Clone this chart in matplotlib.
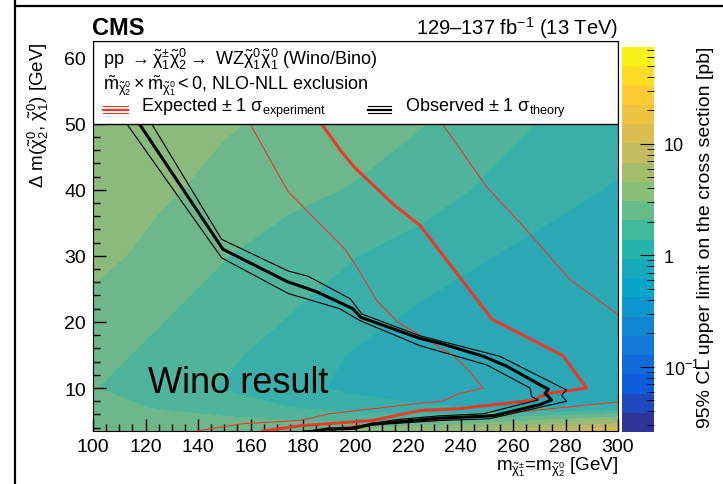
import numpy as np
import matplotlib
matplotlib.use('agg')
import matplotlib.pyplot as plt
from matplotlib.colors import LinearSegmentedColormap, Normalize
from matplotlib.lines import Line2D
from matplotlib.patches import Rectangle
from matplotlib import ticker

plt.rcParams['font.family'] = ['Liberation Sans', 'DejaVu Sans']
plt.rcParams['mathtext.fontset'] = 'custom'
plt.rcParams['mathtext.rm'] = 'Liberation Sans'
plt.rcParams['mathtext.it'] = 'Liberation Sans'
plt.rcParams['mathtext.bf'] = 'Liberation Sans:bold'

# ROOT kBird palette
stops = [0.0, 0.125, 0.25, 0.375, 0.5, 0.625, 0.75, 0.875, 1.0]
red = [0.2082, 0.0592, 0.0780, 0.0232, 0.1802, 0.5301, 0.8186, 0.9956, 0.9764]
green = [0.1664, 0.3599, 0.5041, 0.6419, 0.7178, 0.7492, 0.7328, 0.7862, 0.9832]
blue = [0.5293, 0.8684, 0.8385, 0.7914, 0.6425, 0.4662, 0.3499, 0.1968, 0.0539]
bird = LinearSegmentedColormap.from_list('bird', list(zip(stops, zip(red, green, blue))))

# 95% CL upper limit on cross section [pb]
m_grid = [100, 125, 150, 175, 200, 225, 250, 275, 300]
dm_grid = [3.5, 5, 7, 10, 15, 20, 30, 40, 50]
xs_limit = [
    [3.1, 3.0, 3.0, 3.0, 3.4, 4.5, 6.5, 10.0, 16.0],
    [2.8, 2.6, 2.3, 2.1, 2.0, 2.1, 2.5, 3.5, 5.0],
    [2.4, 2.0, 1.7, 1.4, 1.15, 1.0, 0.95, 0.95, 1.05],
    [2.1, 1.7, 1.35, 1.05, 0.85, 0.72, 0.68, 0.66, 0.66],
    [2.3, 1.9, 1.5, 1.15, 0.9, 0.75, 0.68, 0.65, 0.63],
    [2.6, 2.1, 1.7, 1.35, 1.05, 0.85, 0.75, 0.7, 0.68],
    [3.5, 2.7, 2.1, 1.7, 1.4, 1.15, 0.95, 0.82, 0.75],
    [4.0, 3.3, 2.7, 2.3, 2.0, 1.7, 1.3, 1.05, 0.9],
    [4.5, 3.8, 3.2, 2.8, 2.5, 2.1, 1.7, 1.3, 1.1],
]
zmin, zmax = 0.026, 74.0

# exclusion contours (m, dm)
exp_m = [187, 194, 199.8, 215, 224.6, 252, 279, 288, 274, 270, 269, 240, 224.6, 206.7, 178.9, 164.8]
exp_dm = [50, 46.1, 43.3, 37.6, 34.6, 20.4, 14.9, 10.0, 9.2, 8.7, 8.2, 6.9, 6.6, 5.1, 4.3, 3.5]
exp_dn_m = [159.8, 174.3, 196, 201, 208, 216, 237, 241.7, 248.6, 239.8, 233, 224.6, 190, 178.9, 157, 139.5]
exp_dn_dm = [50, 39.7, 31, 28, 23.3, 20, 15, 13.3, 10, 9.2, 8.0, 7.7, 6.1, 5.1, 4.6, 3.5]
exp_up_m = [233, 250, 262.7, 281.7, 297, 300]
exp_up_dm = [50, 40.4, 35, 26.4, 22, 21]
exp_up_lo_m = [300, 280, 260, 232.4, 205, 182]
exp_up_lo_dm = [7.9, 7.1, 6.3, 5.1, 4.5, 3.5]

obs_m = [117.6, 149.5, 174, 185, 199, 202, 224.6, 232, 248.7, 257.6, 271.6, 273.5, 272.2, 274.7, 270.3, 252.5, 232.2, 224.6, 206.8, 199.5, 189, 184.5]
obs_dm = [50, 31.0, 26.1, 24.6, 22, 20.7, 17.5, 16.8, 14.8, 13.3, 10.2, 9.85, 9.2, 8.2, 7.5, 5.8, 5.45, 5.2, 4.6, 3.9, 3.8, 3.5]
obs_up_m = [122.3, 149, 174.4, 182, 198, 202.4, 224.6, 255, 280.4, 278.5, 280.4, 251, 232.2, 210, 195, 180]
obs_up_dm = [50, 32.5, 27.7, 26.9, 23.5, 21.2, 17.9, 14.8, 9.7, 8.9, 8.0, 5.35, 5.1, 4.5, 3.9, 3.5]
obs_dn_m = [112.8, 149, 174.4, 194, 201.7, 224.6, 250, 266.5, 267.1, 269.6, 248.7, 232.2, 215, 202, 190]
obs_dn_dm = [50, 29.7, 24.3, 22, 20.2, 16.4, 13.5, 10, 8.7, 8.2, 6.1, 5.8, 5.2, 4.3, 3.5]

W, H = 723, 485
fig = plt.figure(figsize=(7.23, 4.85), dpi=100)

def fx(px):
    return px / W

def fy(py):
    return 1 - py / H

ax = fig.add_axes([fx(93), fy(432), fx(618) - fx(93), fy(42) - fy(432)])
ax.set_facecolor('#9c9c9c')
levels = np.linspace(np.log10(zmin), np.log10(zmax), 21)
ax.contourf(m_grid, dm_grid, np.log10(np.array(xs_limit)), levels=levels, cmap=bird,
            norm=Normalize(levels[0], levels[-1]), alpha=0.83, zorder=0)

rc = '#e8392b'
ax.plot(exp_m, exp_dm, color=rc, lw=2.2, zorder=3)
ax.plot(exp_dn_m, exp_dn_dm, color=rc, lw=0.8, zorder=3)
ax.plot(exp_up_m, exp_up_dm, color=rc, lw=0.8, zorder=3)
ax.plot(exp_up_lo_m, exp_up_lo_dm, color=rc, lw=0.8, zorder=3)
ax.plot(obs_m, obs_dm, color='k', lw=2.2, zorder=4)
ax.plot(obs_up_m, obs_up_dm, color='k', lw=0.8, zorder=4)
ax.plot(obs_dn_m, obs_dn_dm, color='k', lw=0.8, zorder=4)

ax.set_xlim(100, 300)
ax.set_ylim(3.5, 62.5)
ax.xaxis.set_major_locator(ticker.MultipleLocator(20))
ax.xaxis.set_minor_locator(ticker.MultipleLocator(5))
ax.yaxis.set_major_locator(ticker.MultipleLocator(10))
ax.yaxis.set_minor_locator(ticker.MultipleLocator(2))
ax.tick_params(which='both', direction='in', labelsize=14, top=False, right=False)
ax.tick_params(which='major', length=9, width=1)
ax.tick_params(which='minor', length=5, width=1)
ax.tick_params(axis='x', pad=5)
ax.tick_params(axis='y', pad=5)

# legend box
ax.add_patch(Rectangle((0, (50 - 3.5) / 59.0), 1, 1 - (50 - 3.5) / 59.0, transform=ax.transAxes,
                       facecolor='white', edgecolor='black', lw=1, zorder=5))

fs = 13
fig.text(fx(103), fy(65), r'pp $\rightarrow \tilde{\chi}^{\pm}_{1}\tilde{\chi}^{0}_{2} \rightarrow$ WZ$\tilde{\chi}^{0}_{1}\tilde{\chi}^{0}_{1}$ (Wino/Bino)',
         fontsize=fs, va='baseline')
fig.text(fx(103), fy(90), r'$\tilde{m}_{\tilde{\chi}^{0}_{2}}\times\tilde{m}_{\tilde{\chi}^{0}_{1}}<0$, NLO-NLL exclusion',
         fontsize=fs, va='baseline')
for x0, x1, col in [(103, 128, rc), (368, 391, 'k')]:
    for dy, lw in [(-3.3, 0.8), (0, 1.6), (3.3, 0.8)]:
        fig.add_artist(Line2D([fx(x0), fx(x1)], [fy(110.5 + dy)] * 2, color=col, lw=lw))
fig.text(fx(141), fy(112), r'Expected $\pm$ 1 $\sigma_{\mathrm{experiment}}$', fontsize=fs, va='baseline')
fig.text(fx(405), fy(112), r'Observed $\pm$ 1 $\sigma_{\mathrm{theory}}$', fontsize=fs, va='baseline')

fig.text(fx(92), fy(35), 'CMS', fontsize=17, fontweight='bold', va='baseline')
fig.text(fx(618), fy(35), r'129–137 fb$^{-1}$ (13 TeV)', fontsize=14.5, ha='right', va='baseline')
fig.text(fx(148), fy(393), 'Wino result', fontsize=26, va='baseline')

fig.text(fx(38), fy(42), r'$\Delta$ m($\tilde{\chi}^{0}_{2}$, $\tilde{\chi}^{0}_{1}$) [GeV]', fontsize=13.5,
         rotation=90, ha='center', va='top')
fig.text(fx(618), fy(471), r'm$_{\tilde{\chi}^{\pm}_{1}}$=m$_{\tilde{\chi}^{0}_{2}}$ [GeV]', fontsize=13.5,
         ha='right', va='baseline')

# colour scale
cax = fig.add_axes([fx(622), fy(433), fx(654) - fx(622), fy(48) - fy(433)])
zb = 10 ** levels
cax.pcolormesh([0, 1], zb, ((levels[:-1] + levels[1:]) / 2).reshape(-1, 1), cmap=bird,
               norm=Normalize(levels[0], levels[-1]))
cax.set_yscale('log')
cax.set_ylim(zmin, zmax)
cax.set_xlim(0, 1)
cax.set_xticks([])
cax.yaxis.tick_right()
cax.yaxis.set_major_locator(ticker.FixedLocator([0.1, 1, 10]))
cax.yaxis.set_major_formatter(ticker.FixedFormatter([r'$10^{-1}$', '1', '10']))
cax.yaxis.set_minor_locator(ticker.LogLocator(subs=np.arange(2, 10)))
cax.yaxis.set_minor_formatter(ticker.NullFormatter())
cax.tick_params(which='both', direction='in', labelsize=13, pad=7)
cax.tick_params(which='major', length=10)
cax.tick_params(which='minor', length=5)
for s in cax.spines.values():
    s.set_visible(False)
fig.text(fx(706), fy(47), '95% CL upper limit on the cross section [pb]', fontsize=14,
         rotation=90, ha='center', va='top')

# page border lines from the screenshot
fig.add_artist(Line2D([fx(15), fx(15)], [0, 1], color='k', lw=1.6))
fig.add_artist(Line2D([fx(15), 1], [fy(7), fy(7)], color='k', lw=1.6))

fig.savefig('out.png', dpi=100)
